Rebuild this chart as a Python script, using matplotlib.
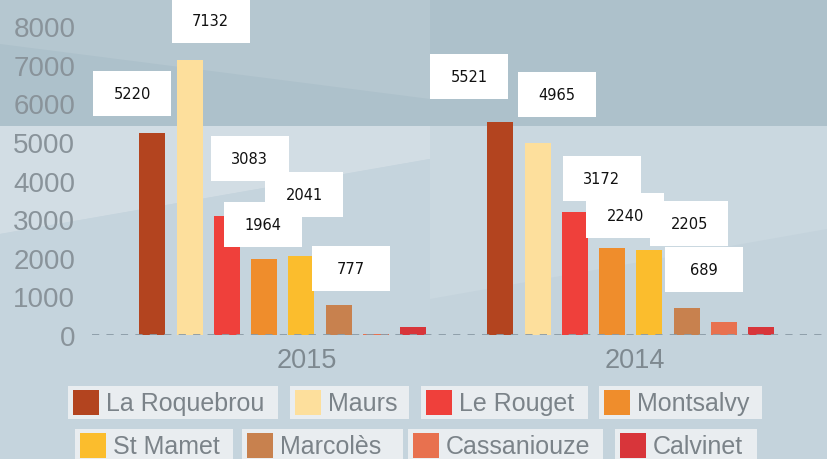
import matplotlib
matplotlib.use('Agg')
import matplotlib.pyplot as plt
from matplotlib.patches import Rectangle, Polygon
from matplotlib.transforms import ScaledTranslation

plt.rcParams['font.family'] = ['Liberation Sans', 'DejaVu Sans']

years = ['2015', '2014']
communes = ['La Roquebrou', 'Maurs', 'Le Rouget', 'Montsalvy',
            'St Mamet', 'Marcolès', 'Cassaniouze', 'Calvinet']
vals_2015 = [5220, 7132, 3083, 1964, 2041, 777, 20, 210]
vals_2014 = [5521, 4965, 3172, 2240, 2205, 689, 330, 200]
colors = ['#b3441f', '#fddf9c', '#ef403b', '#ef8d2c',
          '#fbbd2d', '#c8814e', '#e8714f', '#d8353a']

# where the white value boxes sit, relative to the bar top (pixels)
off_2015 = [(-20, 40), (21, 39), (23, 57), (-1, 35), (3, 62), (12, 36)]
off_2014 = [(-31, 45), (19, 49), (27, 34), (13, 33), (40, 26), (17, 39)]

W, H, DPI = 827, 460, 100
fig = plt.figure(figsize=(W / DPI, H / DPI), dpi=DPI)
fig.patch.set_facecolor('#c6d5de')


def fx(x):
    return x / W


def fy(y):
    return 1 - y / H


def poly(pts, color):
    fig.patches.append(Polygon([(fx(x), fy(y)) for x, y in pts], closed=True,
                               transform=fig.transFigure, facecolor=color,
                               edgecolor='none', zorder=-10))


# background panels
poly([(0, 0), (827, 0), (827, 127), (0, 127)], '#adc1cb')
poly([(0, 0), (430, 0), (430, 100), (0, 45)], '#b5c7d0')
poly([(0, 127), (430, 127), (430, 160), (0, 235)], '#d2dde4')
poly([(0, 235), (430, 160), (430, 460), (0, 460)], '#c5d4dd')
poly([(430, 127), (827, 127), (827, 460), (430, 460)], '#cad8e0')
poly([(430, 300), (827, 230), (827, 460), (430, 460)], '#c4d3dc')

ax = fig.add_axes([fx(92), fy(336), fx(827) - fx(92), fy(27) - fy(336)])
ax.set_facecolor('none')

d = 0.107
bw = 0.075
all_vals = [vals_2015, vals_2014]
for i, name in enumerate(communes):
    xs = [g + (i - 3.5) * d for g in range(len(years))]
    ax.bar(xs, [all_vals[g][i] for g in range(len(years))], width=bw,
           color=colors[i], zorder=2, label=name)

ax.axhline(0, color='#8b9ba6', lw=1.3, dashes=(4, 4), zorder=3)

ax.set_xlim(-0.548, 1.564)
ax.set_ylim(0, 8000)
ax.set_yticks(range(0, 8001, 1000))
ax.tick_params(axis='y', length=0, pad=12, labelsize=20, labelcolor='#89939a')
ax.set_xticks([0.07, 1.012])
ax.set_xticklabels(years)
ax.tick_params(axis='x', length=0, pad=9, labelsize=19.5, labelcolor='#7e8990')
for s in ax.spines.values():
    s.set_visible(False)

# value boxes
for g, offs in enumerate([off_2015, off_2014]):
    order = [0, 1, 2, 4, 3, 5]
    for k, i in enumerate(order):
        x = g + (i - 3.5) * d
        v = all_vals[g][i]
        dx, dy = offs[i]
        tr = fig.dpi_scale_trans + ScaledTranslation(x, v, ax.transData)
        z = 5 + 2 * k
        ax.add_patch(Rectangle(((dx - 39) / DPI, (dy - 22.5) / DPI), 78 / DPI, 45 / DPI,
                               transform=tr, facecolor='white', edgecolor='none',
                               clip_on=False, zorder=z))
        ax.annotate(str(v), xy=(x, v), xytext=(dx * 0.72, dy * 0.72),
                    textcoords='offset points', ha='center', va='center',
                    fontsize=10.5, family='DejaVu Sans', color='#111111',
                    zorder=z + 1, annotation_clip=False)

# legend, one light box per commune
leg_boxes = [(68, 278), (290, 409), (421, 588), (599, 762),
             (75, 233), (242, 403), (408, 603), (615, 757)]
for i, name in enumerate(communes):
    x0, x1 = leg_boxes[i]
    y0 = 387 if i < 4 else 430
    y1 = y0 + 33
    fig.patches.append(Rectangle((fx(x0), fy(y1)), fx(x1) - fx(x0), fy(y0) - fy(y1),
                                 transform=fig.transFigure, facecolor='#edf0f2',
                                 edgecolor='none', alpha=0.92, zorder=1))
    yc = (y0 + y1) / 2
    fig.patches.append(Rectangle((fx(x0 + 5), fy(yc + 12.5)), fx(26), 25 / H,
                                 transform=fig.transFigure, facecolor=colors[i],
                                 edgecolor='none', zorder=2))
    fig.text(fx(x0 + 38), fy(yc + 1), name, ha='left', va='center',
             fontsize=18, color='#7b8389', zorder=3)

fig.savefig('out.png', dpi=DPI, facecolor=fig.get_facecolor())
